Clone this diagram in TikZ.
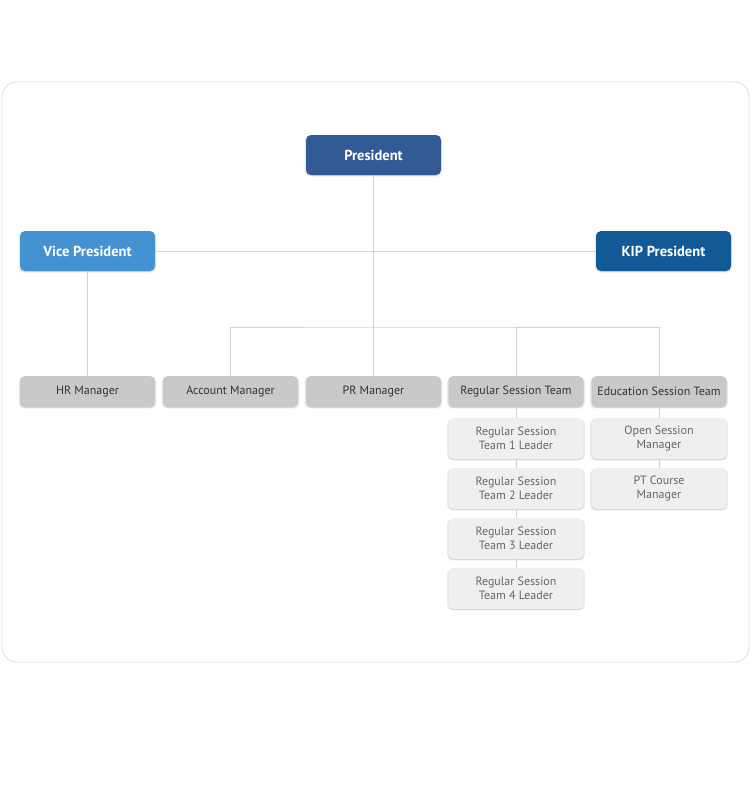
\documentclass[tikz,border=0pt]{standalone}
\usepackage{fontspec}
\setmainfont{PT Sans}
\usetikzlibrary{shadows}
\definecolor{presblue}{HTML}{325B96}
\definecolor{vpblue}{HTML}{4492D2}
\definecolor{kipblue}{HTML}{115A96}
\definecolor{rowgray}{HTML}{C9C9C9}
\definecolor{subgray}{HTML}{EFEFEF}
\definecolor{linegray}{HTML}{D2D2D2}
\definecolor{framegray}{HTML}{DCDCDC}
\tikzset{
  softshadow/.style={general shadow={fill=black, opacity=0.08, shadow xshift=0pt, shadow yshift=-1pt, shadow scale=1.02},
    drop shadow={opacity=0.18, shadow xshift=0pt, shadow yshift=-1pt}},
  topbox/.style={rounded corners=5pt, minimum width=135pt, minimum height=40pt,
    text=white, font=\bfseries\fontsize{14.5}{17}\selectfont, inner sep=0pt, softshadow},
  rowbox/.style={rounded corners=5pt, fill=rowgray, minimum width=135pt, minimum height=31pt,
    text=black!80, font=\fontsize{12}{14}\selectfont, inner sep=0pt, softshadow},
  subbox/.style={rounded corners=5pt, fill=subgray, minimum width=135pt, minimum height=41pt,
    text=black!60, font=\fontsize{12}{14.5}\selectfont, inner sep=0pt, align=center, softshadow},
  conn/.style={draw=linegray, line width=0.8pt}
}
\begin{document}
\begin{tikzpicture}[x=1pt,y=-1pt]
\useasboundingbox (0,0) rectangle (750,789);
\fill[white] (0,0) rectangle (750,789);
\draw[framegray, line width=0.8pt, rounded corners=15pt] (2,82) rectangle (749,662);

% top
\node[topbox, fill=presblue] (pres) at (373.5,155) {President};
\node[topbox, fill=vpblue] (vp) at (87.5,251) {Vice President};
\node[topbox, fill=kipblue] (kip) at (663.5,251) {KIP President};

% row
\node[rowbox] (hr) at (87.5,391.5) {HR Manager};
\node[rowbox] (acc) at (230.5,391.5) {Account Manager};
\node[rowbox] (pr) at (373.5,391.5) {PR Manager};
\node[rowbox] (reg) at (516,391.5) {Regular Session Team};
\node[rowbox] (edu) at (659,391.5) {Education Session Team};

% subs
\node[subbox] (r1) at (516,438.5) {Regular Session\\Team 1 Leader};
\node[subbox] (r2) at (516,488.5) {Regular Session\\Team 2 Leader};
\node[subbox] (r3) at (516,538.5) {Regular Session\\Team 3 Leader};
\node[subbox] (r4) at (516,588.5) {Regular Session\\Team 4 Leader};
\node[subbox] (e1) at (659,438.5) {Open Session\\Manager};
\node[subbox] (e2) at (659,488.5) {PT Course\\Manager};

\coordinate (bj) at (373.5,327);

\draw[conn] (vp.east) -- (kip.west);
\draw[conn] (pres.south) -- (pr.north);
\draw[conn] (vp.south) -- (hr.north);
\draw[conn] (acc.north) |- (bj) -| (edu.north);
\draw[conn] (reg.north) -- (reg.north |- bj);
\draw[conn] (reg.south) -- (r1.north);
\draw[conn] (r1.south) -- (r2.north);
\draw[conn] (r2.south) -- (r3.north);
\draw[conn] (r3.south) -- (r4.north);
\draw[conn] (edu.south) -- (e1.north);
\draw[conn] (e1.south) -- (e2.north);
\end{tikzpicture}
\end{document}
